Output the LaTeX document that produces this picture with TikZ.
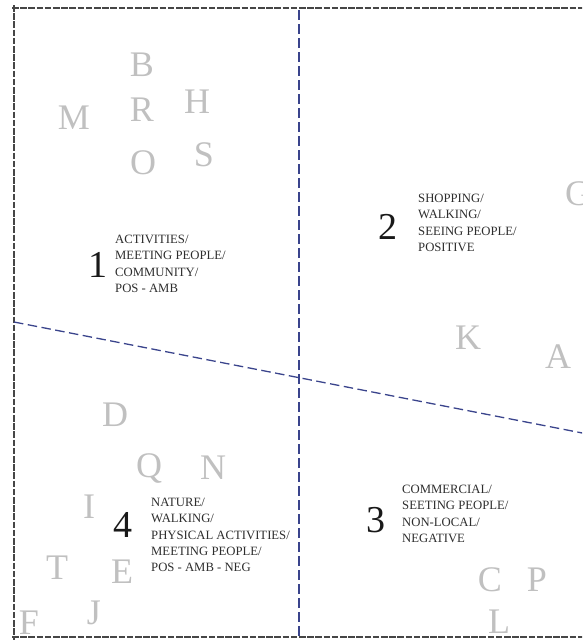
\documentclass[tikz,border=0pt]{standalone}
\usepackage{fontspec}
\setmainfont{Liberation Serif}
\usepackage{tikz}
\usetikzlibrary{positioning, calc}
\usepackage{xcolor}
\definecolor{MapaGris}{RGB}{192,192,192}
\definecolor{MapaTexto}{RGB}{45,45,45}
\definecolor{MapaMarco}{RGB}{70,70,70}
\definecolor{MapaAzul}{RGB}{58,68,140}
\tikzset{%
  letra/.style   ={text=MapaGris, font=\fontsize{36}{36}\selectfont,
                   inner sep=0pt, text height=23.8pt, text depth=0pt},
  num/.style     ={text=black!90, font=\fontsize{38}{38}\selectfont,
                   inner sep=0pt, text height=25.7pt, text depth=0pt},
  desc/.style    ={text=MapaTexto, font=\fontsize{12.7}{16.3}\selectfont,
                   align=left, inner sep=0pt, anchor=west},
  marco/.style   ={draw=MapaMarco, line width=1.1pt, dash pattern=on 6.5pt off 1.7pt},
  eje/.style     ={draw=MapaAzul, line width=1.3pt, dash pattern=on 9.5pt off 4.5pt}
}

\begin{document}
\begin{tikzpicture}[x=1pt, y=-1pt]
  \useasboundingbox (0,0) rectangle (582,641);
  \clip (0,0) rectangle (582,641);
  % marco y ejes
  \coordinate (tl) at (14,8);  \coordinate (tr) at (590,8);
  \coordinate (bl) at (14,637); \coordinate (br) at (590,637);
  \coordinate (vt) at (299,10); \coordinate (vb) at (299,637);
  \coordinate (dl) at (14,322); \coordinate (dr) at (590,434.5);
  \draw[marco] ($(tl)+(-2,0)$)--(tr); \draw[marco] ($(bl)+(-2,0)$)--(br);
  \draw[marco] ($(tl)+(0,-3)$)--($(bl)+(0,3)$);
  \draw[eje] (vt)--(vb); \draw[eje] (dl)--(dr);
  % letras
  \node[letra] (lB) at (142,65) {B};
  \node[letra] (lR) at (142,110) {R};
  \node[letra] (lH) at (197,102) {H};
  \node[letra] (lM) at (74,118) {M};
  \node[letra] (lO) at (143,163) {O};
  \node[letra] (lS) at (204,155) {S};
  \node[letra] (lG) at (578,194) {G};
  \node[letra] (lK) at (468,338) {K};
  \node[letra] (lA) at (558,357) {A};
  \node[letra] (lD) at (115,415) {D};
  \node[letra] (lQ) at (149,466) {Q};
  \node[letra] (lN) at (213,468) {N};
  \node[letra] (lI) at (89,507) {I};
  \node[letra] (lT) at (57,568) {T};
  \node[letra] (lE) at (122,572) {E};
  \node[letra] (lJ) at (94,613) {J};
  \node[letra] (lF) at (29,623) {F};
  \node[letra] (lC) at (490,580) {C};
  \node[letra] (lP) at (537,580) {P};
  \node[letra] (lL) at (499,622) {L};
  % cuadrantes
  \node[num] (n1) at (98,265) {1};
  \node[desc] (t1) at (115,264) {ACTIVITIES/\\MEETING PEOPLE/\\COMMUNITY/\\POS - AMB};
  \node[num] (n2) at (388,227) {2};
  \node[desc] (t2) at (418,223) {SHOPPING/\\WALKING/\\SEEING PEOPLE/\\POSITIVE};
  \node[num] (n3) at (376,520) {3};
  \node[desc] (t3) at (402,514) {COMMERCIAL/\\SEETING PEOPLE/\\NON-LOCAL/\\NEGATIVE};
  \node[num] (n4) at (123,525) {4};
  \node[desc] (t4) at (151,535) {NATURE/\\WALKING/\\PHYSICAL ACTIVITIES/\\MEETING PEOPLE/\\POS - AMB - NEG};
\end{tikzpicture}
\end{document}
